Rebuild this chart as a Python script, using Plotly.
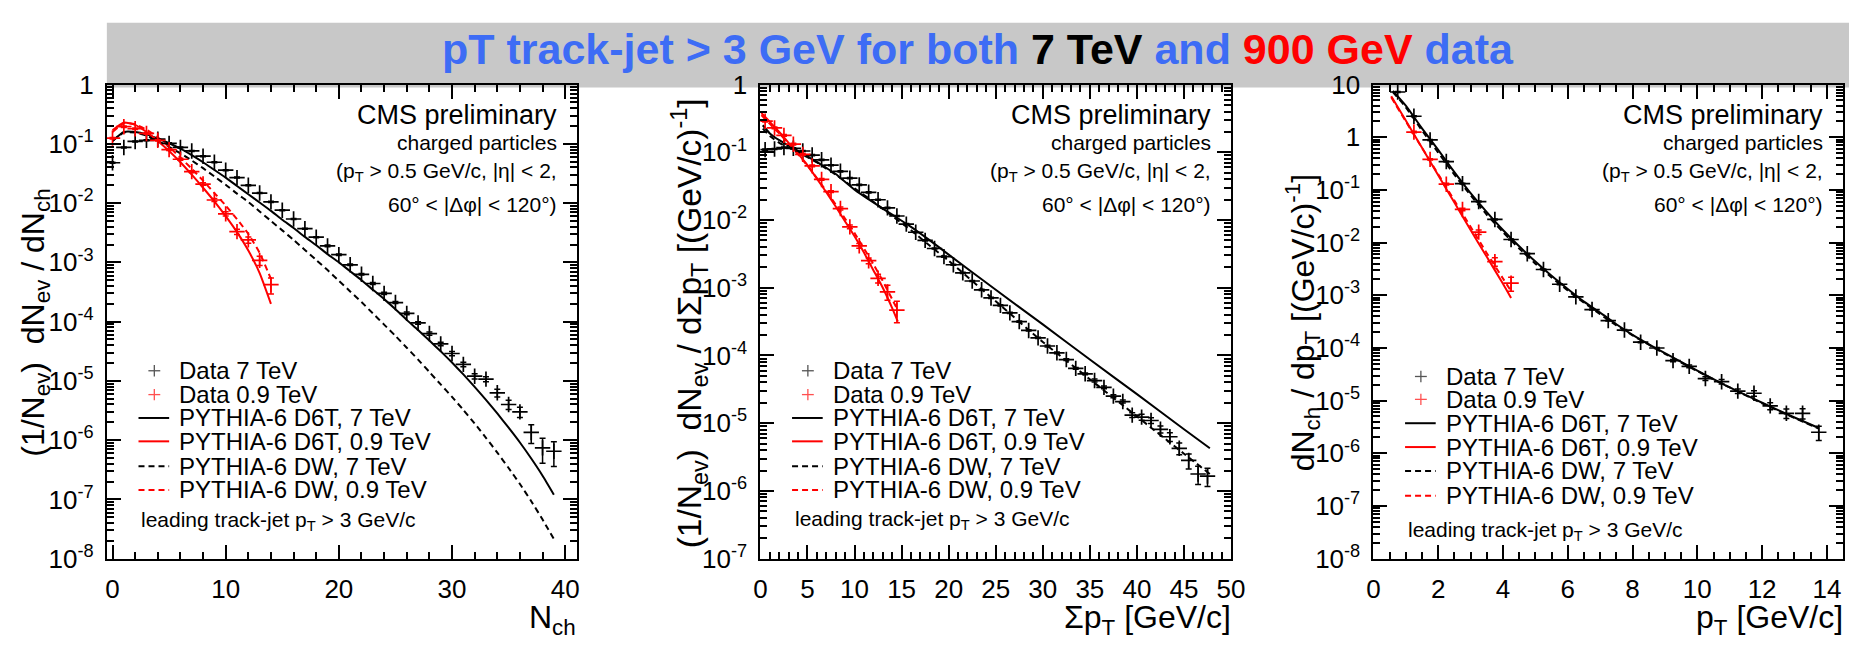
import numpy as np
import plotly.graph_objects as go

W, H = 1863, 649
FONT = "Liberation Sans, Arial, Helvetica, sans-serif"
BLUE = "#3d6cf5"
RED = "#ff0000"

# ---------------- Panel 1 : N_ch ----------------
nch7_x = list(range(40))
nch7_val = [0.048, 0.087, 0.11, 0.115, 0.12, 0.102, 0.087, 0.076, 0.062, 0.049,
            0.036, 0.027, 0.020, 0.0148, 0.0105, 0.0076, 0.0054, 0.0037, 0.00266, 0.0019,
            0.00135, 0.00091, 0.00063, 0.00044, 0.0003, 0.00021, 0.000138, 9.5e-5, 6.3e-5, 4.2e-5,
            2.9e-5, 1.9e-5, 1.2e-5, 1.07e-5, 6.3e-6, 4.0e-6, 3.0e-6, 1.35e-6, 7.4e-7, 6.5e-7]
nch7_relerr = [0.02, 0.02, 0.02, 0.02, 0.02, 0.02, 0.02, 0.02, 0.02, 0.02,
               0.02, 0.02, 0.02, 0.02, 0.02, 0.02, 0.02, 0.02, 0.02, 0.03,
               0.03, 0.03, 0.03, 0.04, 0.04, 0.04, 0.05, 0.05, 0.06, 0.07,
               0.08, 0.09, 0.10, 0.10, 0.15, 0.18, 0.20, 0.35, 0.45, 0.45]
nch09_x = list(range(15))
nch09_val = [0.125, 0.195, 0.18, 0.15, 0.115, 0.08, 0.055, 0.034, 0.021, 0.0113,
             0.0066, 0.0033, 0.0024, 0.00108, 0.00042]
nch09_relerr = [0.03, 0.03, 0.03, 0.03, 0.03, 0.03, 0.04, 0.04, 0.05, 0.06,
                0.08, 0.10, 0.12, 0.18, 0.30]
nch_mc7_x = list(range(40))
d6t7_nch_log10 = [-0.95, -0.80, -0.80, -0.84, -0.91, -0.99, -1.08, -1.19, -1.31, -1.44,
                  -1.57, -1.71, -1.85, -1.99, -2.13, -2.28, -2.42, -2.57, -2.71, -2.86,
                  -3.00, -3.15, -3.30, -3.46, -3.62, -3.79, -3.97, -4.14, -4.32, -4.50,
                  -4.69, -4.89, -5.10, -5.32, -5.55, -5.79, -6.04, -6.31, -6.60, -6.92]
dw7_nch_log10 = [-0.95, -0.81, -0.81, -0.86, -0.95, -1.05, -1.16, -1.28, -1.41, -1.55,
                 -1.69, -1.84, -1.98, -2.14, -2.30, -2.46, -2.62, -2.79, -2.96, -3.13,
                 -3.31, -3.49, -3.67, -3.86, -4.05, -4.24, -4.44, -4.64, -4.85, -5.06,
                 -5.27, -5.49, -5.72, -5.96, -6.21, -6.47, -6.74, -7.03, -7.34, -7.67]
nch_mc09_x = list(range(15))
d6t09_nch_log10 = [-0.77, -0.64, -0.68, -0.80, -0.95, -1.12, -1.31, -1.52, -1.74, -1.97,
                   -2.22, -2.49, -2.80, -3.18, -3.70]
dw09_nch_log10 = [-0.80, -0.65, -0.67, -0.76, -0.89, -1.05, -1.23, -1.42, -1.62, -1.83,
                  -2.04, -2.27, -2.52, -2.84, -3.28]

# ---------------- Panel 2 : sum pT ----------------
sumpt7_x = [i + 0.5 for i in range(48)]
sumpt7_log10 = [-0.96, -0.95, -0.93, -0.94, -0.98, -1.04, -1.11, -1.19, -1.28, -1.38,
                -1.48, -1.59, -1.70, -1.82, -1.94, -2.06, -2.18, -2.30, -2.42, -2.54,
                -2.66, -2.78, -2.90, -3.03, -3.15, -3.26, -3.37, -3.50, -3.63, -3.74,
                -3.86, -3.96, -4.06, -4.19, -4.27, -4.37, -4.47, -4.60, -4.68, -4.88,
                -4.91, -4.96, -5.09, -5.20, -5.37, -5.55, -5.75, -5.78]
sumpt7_relerr = [0.02] * 30 + [0.03] * 5 + [0.05] * 4 + [0.08, 0.10, 0.10, 0.12, 0.15, 0.20, 0.25, 0.30, 0.30]
sumpt09_x = [i + 0.5 for i in range(15)]
sumpt09_log10 = [-0.54, -0.64, -0.75, -0.88, -1.03, -1.20, -1.40, -1.58, -1.83, -2.10,
                 -2.38, -2.60, -2.86, -3.06, -3.33]
sumpt09_relerr = [0.03] * 8 + [0.05, 0.06, 0.08, 0.10, 0.15, 0.25, 0.35]
sumpt_mc7_x = [0.25, 1, 2, 3, 4, 5, 6, 7, 8, 10, 12, 14, 16, 18, 20, 25, 30, 35, 40, 45, 47.75]
d6t7_sumpt_log10 = [-0.60, -0.72, -0.82, -0.90, -0.98, -1.06, -1.14, -1.23, -1.32, -1.55, -1.74,
                    -1.92, -2.10, -2.30, -2.51, -3.03, -3.54, -4.06, -4.57, -5.09, -5.37]
dw7_sumpt_log10 = [-0.65, -0.76, -0.86, -0.93, -1.00, -1.07, -1.15, -1.24, -1.33, -1.53, -1.73,
                   -1.94, -2.15, -2.38, -2.60, -3.20, -3.80, -4.35, -4.90, -5.45, -5.75]
sumpt_mc09_x = [0.1, 1, 2, 3, 4, 5, 6, 7, 8, 9, 10, 11, 12, 13, 14, 14.6]
d6t09_sumpt_log10 = [-0.42, -0.55, -0.70, -0.86, -1.02, -1.19, -1.39, -1.59, -1.80, -2.02,
                     -2.24, -2.48, -2.74, -3.00, -3.30, -3.50]
dw09_sumpt_log10 = [-0.45, -0.58, -0.72, -0.87, -1.03, -1.20, -1.38, -1.57, -1.77, -1.98,
                    -2.19, -2.42, -2.65, -2.90, -3.17, -3.33]

# ---------------- Panel 3 : pT ----------------
pt7_x = [0.75 + 0.5 * i for i in range(27)]
pt7_log10 = [0.86, 0.40, -0.05, -0.46, -0.88, -1.22, -1.56, -1.94, -2.21, -2.51,
             -2.79, -3.03, -3.27, -3.48, -3.66, -3.89, -4.00, -4.24, -4.35, -4.58,
             -4.64, -4.82, -4.86, -5.10, -5.24, -5.24, -5.60]
pt7_relerr = [0.02] * 17 + [0.05, 0.06, 0.08, 0.10, 0.10, 0.12, 0.15, 0.20, 0.22, 0.30]
pt09_x = [1.25, 1.75, 2.25, 2.75, 3.25, 3.75, 4.25]
pt09_log10 = [0.10, -0.42, -0.89, -1.37, -1.80, -2.36, -2.77]
pt09_relerr = [0.03, 0.03, 0.04, 0.05, 0.10, 0.18, 0.30]
pt_mc7_x = [0.6, 1, 1.5, 2, 2.5, 3, 3.5, 4, 4.5, 5, 5.5, 6, 6.5, 7, 7.5, 8, 9, 10, 11, 12, 13, 13.75]
d6t7_pt_log10 = [0.88, 0.60, 0.17, -0.24, -0.66, -1.06, -1.42, -1.76, -2.07, -2.36, -2.63,
                 -2.88, -3.12, -3.33, -3.55, -3.75, -4.10, -4.43, -4.75, -5.04, -5.32, -5.52]
dw7_pt_log10 = [0.86, 0.57, 0.13, -0.29, -0.71, -1.10, -1.47, -1.80, -2.11, -2.40, -2.66,
                -2.91, -3.14, -3.36, -3.57, -3.76, -4.11, -4.44, -4.75, -5.05, -5.33, -5.53]
pt_mc09_x = [0.55, 1, 1.5, 2, 2.5, 3, 3.5, 4, 4.25]
d6t09_pt_log10 = [0.78, 0.32, -0.20, -0.72, -1.24, -1.76, -2.27, -2.78, -3.05]
dw09_pt_log10 = [0.76, 0.30, -0.20, -0.70, -1.20, -1.70, -2.20, -2.68, -2.92]

# tick labels
ytick_vals_8_0 = [1e-8, 1e-7, 1e-6, 1e-5, 1e-4, 1e-3, 1e-2, 1e-1, 1]
ytick_text_8_0 = ["10<sup>-8</sup>", "10<sup>-7</sup>", "10<sup>-6</sup>", "10<sup>-5</sup>",
                  "10<sup>-4</sup>", "10<sup>-3</sup>", "10<sup>-2</sup>", "10<sup>-1</sup>", "1"]
ytick_vals_7_0 = ytick_vals_8_0[1:]
ytick_text_7_0 = ytick_text_8_0[1:]
ytick_vals_8_1 = ytick_vals_8_0 + [10]
ytick_text_8_1 = ytick_text_8_0 + ["10"]

legend_labels = ["Data 7 TeV", "Data 0.9 TeV", "PYTHIA-6 D6T, 7 TeV", "PYTHIA-6 D6T, 0.9 TeV",
                 "PYTHIA-6 DW, 7 TeV", "PYTHIA-6 DW, 0.9 TeV"]


def pw(v):
    return [10 ** a for a in v]


def px(x):
    return x / W


def py(y):
    return 1 - y / H


TOP, BOT = 73, 570
frames = [(101, 576), (762, 1238), (1382, 1857)]

fig = go.Figure()


def add_panel(idx, mc, data):
    xa = "x" if idx == 1 else "x%d" % idx
    ya = "y" if idx == 1 else "y%d" % idx
    for (x, y, col, dash) in mc:
        fig.add_trace(go.Scatter(x=x, y=y, mode="lines", xaxis=xa, yaxis=ya, showlegend=False,
                                 line=dict(color=col, width=2, dash=dash, shape="spline", smoothing=0.5)))
    for (x, y, rel, col) in data:
        err = [a * b for a, b in zip(y, rel)]
        fig.add_trace(go.Scatter(x=x, y=y, mode="markers", xaxis=xa, yaxis=ya, showlegend=False,
                                 marker=dict(symbol="cross-thin", size=11, color=col,
                                             line=dict(width=1.7, color=col)),
                                 error_y=dict(type="data", array=err, color=col, thickness=1.5, width=3)))


DASH = "6px,4px"
add_panel(1,
          [(nch_mc7_x, pw(d6t7_nch_log10), "black", "solid"),
           (nch_mc7_x, pw(dw7_nch_log10), "black", DASH),
           (nch_mc09_x, pw(d6t09_nch_log10), RED, "solid"),
           (nch_mc09_x, pw(dw09_nch_log10), RED, DASH)],
          [(nch7_x, nch7_val, nch7_relerr, "black"),
           (nch09_x, nch09_val, nch09_relerr, RED)])
add_panel(2,
          [(sumpt_mc7_x, pw(d6t7_sumpt_log10), "black", "solid"),
           (sumpt_mc7_x, pw(dw7_sumpt_log10), "black", DASH),
           (sumpt_mc09_x, pw(d6t09_sumpt_log10), RED, "solid"),
           (sumpt_mc09_x, pw(dw09_sumpt_log10), RED, DASH)],
          [(sumpt7_x, pw(sumpt7_log10), sumpt7_relerr, "black"),
           (sumpt09_x, pw(sumpt09_log10), sumpt09_relerr, RED)])
add_panel(3,
          [(pt_mc7_x, pw(d6t7_pt_log10), "black", "solid"),
           (pt_mc7_x, pw(dw7_pt_log10), "black", DASH),
           (pt_mc09_x, pw(d6t09_pt_log10), RED, "solid"),
           (pt_mc09_x, pw(dw09_pt_log10), RED, DASH)],
          [(pt7_x, pw(pt7_log10), pt7_relerr, "black"),
           (pt09_x, pw(pt09_log10), pt09_relerr, RED)])


def xaxis(i, rng, dtick, mdtick):
    L, R = frames[i]
    return dict(domain=[px(L), px(R)], range=rng, anchor="y" if i == 0 else "y%d" % (i + 1),
                showline=True, linecolor="black", linewidth=2, mirror="allticks",
                ticks="inside", ticklen=14, tickwidth=1.5, tickcolor="black",
                tick0=0, dtick=dtick, showgrid=False, zeroline=False,
                minor=dict(ticks="inside", ticklen=7, tickwidth=1.5, tickcolor="black",
                           dtick=mdtick, tick0=0, showgrid=False),
                tickfont=dict(family=FONT, size=26, color="black"), ticklabelstandoff=6)


def yaxis(i, rng, tv, tt):
    minor_vals = [m * 10.0 ** e for e in range(rng[0], rng[1]) for m in range(2, 10)]
    return dict(domain=[py(BOT), py(TOP)], type="log", range=rng,
                anchor="x" if i == 0 else "x%d" % (i + 1),
                showline=True, linecolor="black", linewidth=2, mirror="allticks",
                ticks="inside", ticklen=14, tickwidth=1.5, tickcolor="black",
                tickmode="array", tickvals=tv, ticktext=tt, showgrid=False, zeroline=False,
                minor=dict(ticks="inside", ticklen=7, tickwidth=1.5, tickcolor="black",
                           tickmode="array", tickvals=minor_vals, showgrid=False),
                tickfont=dict(family=FONT, size=26, color="black"), ticklabelstandoff=6)


annotations = []
shapes = []

# banner
shapes.append(dict(type="rect", xref="paper", yref="paper", x0=px(101), x1=1.0, y0=py(76), y1=py(8),
                   fillcolor="#c8c8c8", line=dict(width=0), layer="below"))
title = ('<b><span style="color:%s">pT track-jet &gt; 3 GeV for both </span>'
         '<span style="color:black">7 TeV</span>'
         '<span style="color:%s"> and </span>'
         '<span style="color:%s">900 GeV</span>'
         '<span style="color:%s"> data</span></b>') % (BLUE, BLUE, RED, BLUE)
annotations.append(dict(text=title, x=px(982), y=py(36), xref="paper", yref="paper",
                        xanchor="center", yanchor="middle", showarrow=False,
                        font=dict(family=FONT, size=43, color=BLUE)))

ytitles = ["(1/N<sub>ev</sub>)  dN<sub>ev</sub> / dN<sub>ch</sub>",
           "(1/N<sub>ev</sub>)  dN<sub>ev</sub> / d\u03a3p<sub>T</sub> [(GeV/c)<sup>-1</sup>]",
           "dN<sub>ch</sub> / dp<sub>T</sub> [(GeV/c)<sup>-1</sup>]"]
ytitle_x = [28, 690, 1310]
ytitle_size = [32, 33.5, 32]
xtitles = ["N<sub>ch</sub>", "\u03a3p<sub>T</sub> [GeV/c]", "p<sub>T</sub> [GeV/c]"]
legend_rows = [[373, 398, 422.5, 447, 473, 498, 531],
               [373, 398, 422.5, 447, 473, 498, 529],
               [379, 403, 428, 453, 478, 504, 541]]
styles = [("data", "black"), ("data", RED), ("solid", "black"), ("solid", RED),
          ("dash", "black"), ("dash", RED)]

for i, (L, R) in enumerate(frames):
    annotations.append(dict(text=ytitles[i], x=px(ytitle_x[i]), y=py(323), xref="paper", yref="paper",
                            xanchor="center", yanchor="middle", textangle=-90, showarrow=False,
                            font=dict(family=FONT, size=ytitle_size[i], color="black")))
    annotations.append(dict(text=xtitles[i], x=px(R + 2), y=py(634), xref="paper", yref="paper",
                            xanchor="right", yanchor="middle", showarrow=False,
                            font=dict(family=FONT, size=32, color="black")))
    rx = px(R - 18)
    for (txt, yy, sz) in [("CMS preliminary", 105, 27), ("charged particles", 134, 21),
                          ("(p<sub>T</sub> &gt; 0.5 GeV/c, |\u03b7| &lt; 2,", 165, 21),
                          ("60\u00b0 &lt; |\u0394\u03c6| &lt; 120\u00b0)", 199, 21)]:
        annotations.append(dict(text=txt, x=rx, y=py(yy), xref="paper", yref="paper",
                                xanchor="right", yanchor="middle", showarrow=False,
                                font=dict(family=FONT, size=sz, color="black")))
    rows = legend_rows[i]
    for k, lab in enumerate(legend_labels):
        yy = rows[k]
        kind, col = styles[k]
        if kind == "data":
            mcol = "#555555" if col == "black" else "#ff5050"
            shapes.append(dict(type="line", xref="paper", yref="paper", x0=px(L + 42), x1=px(L + 54),
                               y0=py(yy), y1=py(yy), line=dict(color=mcol, width=1.3)))
            shapes.append(dict(type="line", xref="paper", yref="paper", x0=px(L + 48), x1=px(L + 48),
                               y0=py(yy - 6), y1=py(yy + 6), line=dict(color=mcol, width=1.3)))
        else:
            shapes.append(dict(type="line", xref="paper", yref="paper", x0=px(L + 32), x1=px(L + 63),
                               y0=py(yy), y1=py(yy),
                               line=dict(color=col, width=2, dash="solid" if kind == "solid" else DASH)))
        annotations.append(dict(text=lab, x=px(L + 71), y=py(yy), xref="paper", yref="paper",
                                xanchor="left", yanchor="middle", showarrow=False,
                                font=dict(family=FONT, size=24, color="black")))
    annotations.append(dict(text="leading track-jet p<sub>T</sub> &gt; 3 GeV/c", x=px(L + 33), y=py(rows[6]),
                            xref="paper", yref="paper", xanchor="left", yanchor="middle", showarrow=False,
                            font=dict(family=FONT, size=21, color="black")))

fig.update_layout(
    width=W, height=H, margin=dict(l=0, r=0, t=0, b=0),
    paper_bgcolor="white", plot_bgcolor="rgba(0,0,0,0)",
    showlegend=False,
    xaxis=xaxis(0, [-0.5, 41.0], 10, 2),
    xaxis2=xaxis(1, [0, 50], 5, 1),
    xaxis3=xaxis(2, [0, 14.5], 2, 0.5),
    yaxis=yaxis(0, [-8, 0], ytick_vals_8_0, ytick_text_8_0),
    yaxis2=yaxis(1, [-7, 0], ytick_vals_7_0, ytick_text_7_0),
    yaxis3=yaxis(2, [-8, 1], ytick_vals_8_1, ytick_text_8_1),
    annotations=annotations, shapes=shapes,
    font=dict(family=FONT, color="black"),
)

fig.write_html("out.html")
